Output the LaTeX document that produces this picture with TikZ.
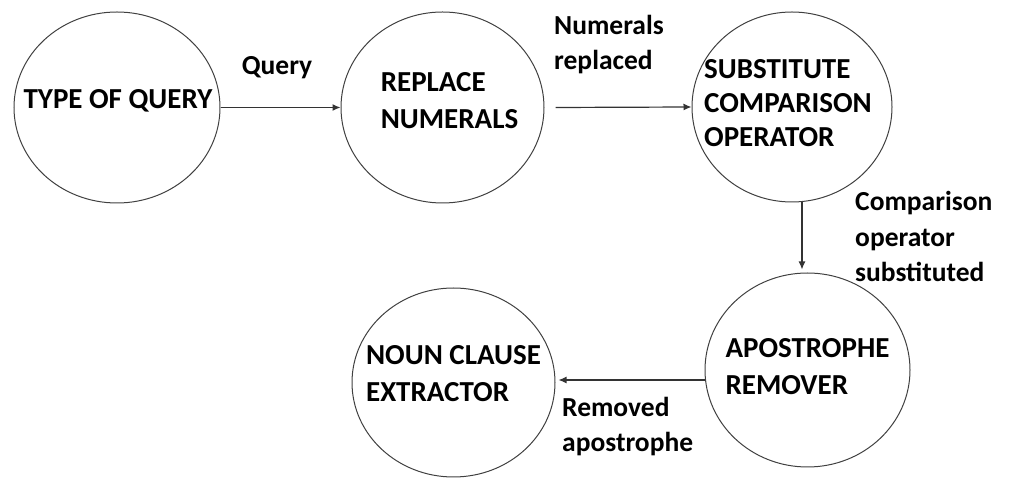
\documentclass[tikz,border=0pt]{standalone}
\usepackage{fontspec}
\setmainfont{Carlito}
\usetikzlibrary{arrows.meta, shapes.geometric}
\tikzset{
    stage/.style={draw=black!75, line width=1pt, ellipse, minimum width=203pt, minimum height=191pt, inner sep=0pt},
    inside/.style={inner sep=0pt, yshift=7pt, align=left, font=\bfseries\fontsize{29}{37}\selectfont},
    flow/.style={line width=1.2pt, black!80, -{Latex[length=8pt, width=7pt]}},
    tag/.style={inner sep=0pt, align=left, anchor=base west, font=\bfseries\fontsize{27.5}{35.5}\selectfont},
    }
\begin{document}
\begin{tikzpicture}[x=1pt, y=1pt]
    \useasboundingbox (0,0) rectangle (1010,479);

    % stages
    \node[stage, minimum width=206pt, label={[inside, xshift=1pt]center:TYPE OF QUERY}] (type) at (117, 371.5) {};
    \node[stage, label={[inside, xshift=7pt]center:REPLACE\\NUMERALS}] (repl) at (442.5, 371.5) {};
    \node[stage, minimum width=200pt, minimum height=190pt, label={[inside, xshift=-4pt, yshift=-3pt, font=\bfseries\fontsize{29}{34}\selectfont]center:SUBSTITUTE\\COMPARISON\\OPERATOR}] (subst) at (792, 372) {};
    \node[stage, minimum width=205pt, minimum height=194pt, label={[inside, yshift=-4pt]center:APOSTROPHE\\REMOVER}] (apos) at (807.5, 109) {};
    \node[stage, minimum height=189pt, label={[inside, yshift=2pt]center:NOUN CLAUSE\\EXTRACTOR}] (noun) at (453.5, 96.5) {};

    % connectors
    \draw[flow] (type.east) -- (repl.west);
    \draw[flow] ([xshift=11pt]repl.east) -- (subst.west);
    \draw[flow] ([xshift=10pt]subst.south) -- ([xshift=-5.5pt, yshift=3pt]apos.north);
    \draw[flow] ([yshift=-10pt]apos.west) -- ([xshift=3pt, yshift=2.5pt]noun.east);

    % labels
    \node[tag, anchor=base] (lquery) at (277, 404) {Query};
    \node[tag] (lnum)  at (554, 409) {Numerals\\replaced};
    \node[tag] (lcomp) at (855, 197) {Comparison\\operator\\substituted};
    \node[tag] (lrem)  at (562, 27) {Removed\\apostrophe};

\end{tikzpicture}
\end{document}
